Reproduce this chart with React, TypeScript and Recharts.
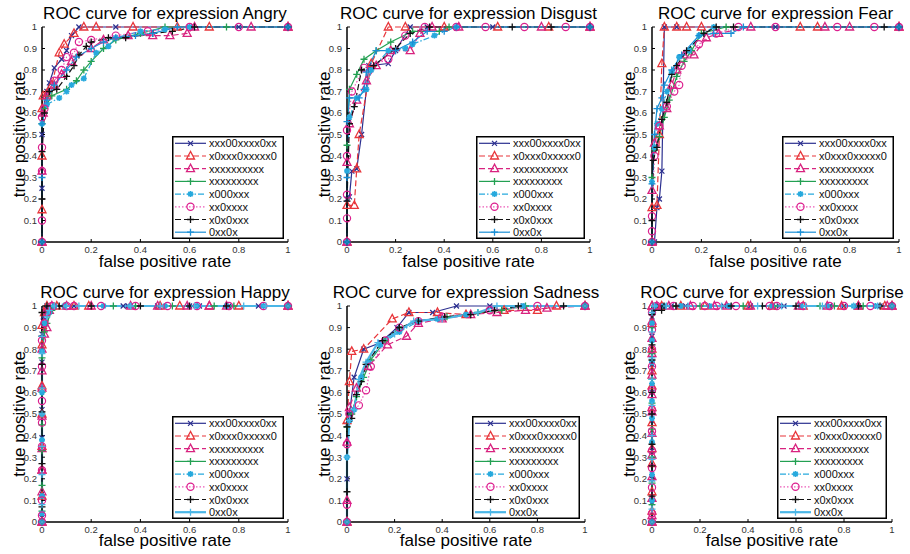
import { LineChart, Line, XAxis, YAxis } from 'recharts'

type Pt = [number, number]

const xTicks = [0, 0.2, 0.4, 0.6, 0.8, 1]
const yTicks = [0, 0.1, 0.2, 0.3, 0.4, 0.5, 0.6, 0.7, 0.8, 0.9, 1]
const methodNames = ['xxx00xxxx0xx', 'x0xxx0xxxxx0', 'xxxxxxxxxx', 'xxxxxxxxx', 'x000xxx', 'xx0xxxx', 'x0x0xxx', '0xx0x']

// Angry
const angry1: Pt[] = [[0, 0], [0, 0.25], [0, 0.5], [0.005, 0.62], [0.02, 0.7], [0.03, 0.74], [0.05, 0.81], [0.08, 0.85], [0.1, 0.89], [0.12, 0.96], [0.15, 1], [0.3, 1], [0.6, 1], [0.8, 1], [1, 1]]
const angry2: Pt[] = [[0, 0], [0, 0.15], [0, 0.4], [0, 0.62], [0.005, 0.68], [0.02, 0.69], [0.04, 0.73], [0.07, 0.88], [0.09, 0.92], [0.13, 0.97], [0.17, 1], [0.22, 1], [0.37, 1], [0.55, 1], [0.68, 1], [1, 1]]
const angry3: Pt[] = [[0, 0], [0, 0.33], [0.005, 0.6], [0.02, 0.68], [0.05, 0.73], [0.08, 0.78], [0.12, 0.84], [0.2, 0.9], [0.25, 0.94], [0.35, 0.96], [0.45, 0.96], [0.52, 0.96], [0.59, 0.97], [0.62, 1], [0.85, 1], [1, 1]]
const angry4: Pt[] = [[0, 0], [0, 0.55], [0.01, 0.62], [0.04, 0.68], [0.1, 0.71], [0.14, 0.75], [0.17, 0.8], [0.2, 0.84], [0.25, 0.9], [0.3, 0.94], [0.4, 0.97], [0.5, 1], [0.75, 1], [1, 1]]
const angry5: Pt[] = [[0, 0], [0, 0.55], [0.02, 0.64], [0.07, 0.67], [0.1, 0.7], [0.12, 0.73], [0.17, 0.76], [0.22, 0.88], [0.27, 0.91], [0.3, 0.95], [0.4, 0.98], [0.5, 0.99], [0.6, 1], [1, 1]]
const angry6: Pt[] = [[0, 0], [0, 0.1], [0, 0.33], [0, 0.44], [0, 0.58], [0.01, 0.62], [0.05, 0.75], [0.08, 0.8], [0.1, 0.86], [0.13, 0.88], [0.15, 0.93], [0.2, 0.94], [0.3, 0.96], [0.43, 0.98], [0.6, 1], [0.8, 1], [1, 1]]
const angry7: Pt[] = [[0, 0], [0, 0.2], [0, 0.42], [0.01, 0.6], [0.03, 0.7], [0.06, 0.71], [0.1, 0.77], [0.13, 0.82], [0.15, 0.87], [0.18, 0.91], [0.2, 0.93], [0.27, 0.95], [0.34, 0.95], [0.45, 0.97], [0.53, 0.98], [0.62, 1], [1, 1]]
const angry8: Pt[] = [[0, 0], [0, 0.3], [0, 0.55], [0.02, 0.66], [0.05, 0.73], [0.1, 0.8], [0.14, 0.86], [0.2, 0.9], [0.25, 0.93], [0.3, 0.95], [0.38, 0.96], [0.45, 0.97], [0.55, 1], [1, 1]]

// Disgust
const disgust1: Pt[] = [[0, 0], [0, 0.2], [0.01, 0.21], [0.02, 0.33], [0.04, 0.34], [0.06, 0.5], [0.09, 0.82], [0.17, 0.83], [0.2, 0.89], [0.26, 1], [0.33, 1], [0.6, 1], [1, 1]]
const disgust2: Pt[] = [[0, 0], [0, 0.17], [0.03, 0.17], [0.04, 0.34], [0.05, 0.5], [0.1, 0.83], [0.17, 1], [0.24, 1], [0.4, 1], [0.62, 1], [0.83, 1], [1, 1]]
const disgust3: Pt[] = [[0, 0], [0, 0.37], [0.01, 0.55], [0.04, 0.66], [0.08, 0.75], [0.12, 0.82], [0.18, 0.89], [0.26, 0.89], [0.3, 0.97], [0.35, 1], [0.46, 1], [0.8, 1], [1, 1]]
const disgust4: Pt[] = [[0, 0], [0, 0.45], [0.01, 0.71], [0.04, 0.78], [0.07, 0.85], [0.12, 0.89], [0.18, 0.93], [0.27, 0.98], [0.38, 0.98], [0.42, 1], [1, 1]]
const disgust5: Pt[] = [[0, 0], [0, 0.33], [0.01, 0.58], [0.04, 0.67], [0.08, 0.71], [0.1, 0.8], [0.17, 0.89], [0.24, 0.9], [0.27, 0.92], [0.36, 0.96], [0.45, 1], [1, 1]]
const disgust6: Pt[] = [[0, 0], [0, 0.11], [0, 0.22], [0, 0.4], [0, 0.52], [0.02, 0.7], [0.07, 0.81], [0.17, 0.85], [0.24, 0.96], [0.32, 1], [0.45, 1], [0.57, 1], [0.73, 1], [0.9, 1], [1, 1]]
const disgust7: Pt[] = [[0, 0], [0, 0.19], [0.01, 0.55], [0.03, 0.63], [0.06, 0.8], [0.11, 0.82], [0.2, 0.9], [0.26, 0.97], [0.34, 1], [0.68, 1], [0.84, 1], [1, 1]]
const disgust8: Pt[] = [[0, 0], [0, 0.3], [0, 0.56], [0.01, 0.67], [0.05, 0.67], [0.07, 0.71], [0.08, 0.79], [0.12, 0.89], [0.2, 0.89], [0.27, 0.93], [0.33, 0.98], [0.4, 0.98], [0.45, 1], [1, 1]]

// Fear
const fear1: Pt[] = [[0, 0], [0.01, 0], [0.02, 0.16], [0.03, 0.2], [0.04, 0.33], [0.05, 1], [0.1, 1], [0.5, 1], [1, 1]]
const fear2: Pt[] = [[0, 0], [0, 0.16], [0.02, 0.17], [0.03, 0.5], [0.04, 0.83], [0.05, 1], [0.1, 1], [0.14, 1], [0.2, 1], [0.6, 1], [0.67, 1], [1, 1]]
const fear3: Pt[] = [[0, 0], [0, 0.24], [0.01, 0.46], [0.03, 0.54], [0.06, 0.62], [0.08, 0.73], [0.1, 0.8], [0.13, 0.87], [0.17, 0.87], [0.22, 0.95], [0.27, 0.97], [0.4, 1], [0.7, 1], [0.8, 1], [1, 1]]
const fear4: Pt[] = [[0, 0], [0, 0.3], [0.01, 0.43], [0.03, 0.49], [0.05, 0.58], [0.07, 0.66], [0.1, 0.77], [0.13, 0.84], [0.16, 0.89], [0.2, 0.97], [0.3, 1], [1, 1]]
const fear5: Pt[] = [[0, 0], [0, 0.28], [0.01, 0.44], [0.02, 0.55], [0.04, 0.62], [0.06, 0.7], [0.08, 0.79], [0.11, 0.86], [0.15, 0.89], [0.19, 0.96], [0.25, 1], [1, 1]]
const fear6: Pt[] = [[0, 0], [0, 0.05], [0, 0.12], [0.01, 0.4], [0.03, 0.54], [0.06, 0.63], [0.09, 0.7], [0.11, 0.73], [0.12, 0.82], [0.19, 0.92], [0.26, 0.97], [0.35, 1], [0.5, 1], [0.75, 1], [0.9, 1], [1, 1]]
const fear7: Pt[] = [[0, 0], [0, 0.1], [0.005, 0.38], [0.02, 0.44], [0.04, 0.57], [0.06, 0.65], [0.08, 0.78], [0.1, 0.82], [0.14, 0.89], [0.21, 0.97], [0.26, 1], [0.33, 1], [0.94, 1], [1, 1]]
const fear8: Pt[] = [[0, 0], [0, 0.27], [0.01, 0.5], [0.02, 0.62], [0.04, 0.67], [0.05, 0.73], [0.08, 0.8], [0.12, 0.87], [0.19, 0.96], [0.25, 0.97], [0.32, 0.97], [0.37, 1], [1, 1]]

// Happy
const happy1: Pt[] = [[0, 0], [0, 0.02], [0, 0.13], [0, 0.39], [0, 0.52], [0, 0.74], [0, 0.87], [0.005, 0.95], [0.01, 0.98], [0.02, 1], [0.05, 1], [0.13, 1], [0.33, 1], [0.35, 1], [0.47, 1], [0.6, 1], [0.64, 1], [0.76, 1], [0.88, 1], [1, 1]]
const happy2: Pt[] = [[0, 0], [0, 0.12], [0, 0.24], [0, 0.35], [0, 0.5], [0, 0.63], [0, 0.82], [0, 0.91], [0.01, 0.97], [0.02, 1], [0.06, 1], [0.13, 1], [0.19, 1], [0.48, 1], [0.56, 1], [0.68, 1], [0.8, 1], [1, 1]]
const happy3: Pt[] = [[0, 0], [0, 0.14], [0, 0.24], [0, 0.34], [0, 0.49], [0, 0.62], [0, 0.7], [0, 0.8], [0.01, 0.87], [0.02, 0.9], [0.03, 0.98], [0.04, 1], [0.1, 1], [0.2, 1], [0.36, 1], [0.47, 1], [0.59, 1], [0.68, 1], [0.75, 1], [1, 1]]
const happy4: Pt[] = [[0, 0], [0, 0.05], [0, 0.17], [0, 0.33], [0, 0.45], [0, 0.6], [0, 0.76], [0.01, 0.88], [0.02, 0.92], [0.04, 0.98], [0.05, 1], [0.09, 1], [0.29, 1], [0.38, 1], [0.53, 1], [0.7, 1], [0.78, 1], [1, 1]]
const happy5: Pt[] = [[0, 0], [0, 0.04], [0, 0.12], [0, 0.38], [0, 0.5], [0, 0.6], [0, 0.79], [0.01, 0.92], [0.03, 0.97], [0.05, 1], [0.09, 1], [0.25, 1], [0.36, 1], [0.5, 1], [0.63, 1], [0.75, 1], [0.9, 1], [1, 1]]
const happy6: Pt[] = [[0, 0], [0, 0.03], [0, 0.1], [0, 0.24], [0, 0.35], [0, 0.46], [0, 0.56], [0, 0.72], [0, 0.84], [0.01, 0.92], [0.02, 0.97], [0.04, 1], [0.1, 1], [0.13, 1], [0.24, 1], [0.38, 1], [0.51, 1], [0.63, 1], [0.76, 1], [0.9, 1], [1, 1]]
const happy7: Pt[] = [[0, 0], [0, 0.07], [0, 0.27], [0, 0.51], [0, 0.73], [0, 0.86], [0, 0.97], [0.02, 1], [0.07, 1], [0.2, 1], [0.4, 1], [0.6, 1], [0.75, 1], [1, 1]]
const happy8: Pt[] = [[0, 0], [0, 0.08], [0, 0.22], [0, 0.35], [0, 0.5], [0, 0.62], [0, 0.78], [0, 0.86], [0.02, 0.95], [0.03, 0.98], [0.05, 1], [0.1, 1], [0.15, 1], [0.36, 1], [0.48, 1], [0.62, 1], [0.82, 1], [0.91, 1], [1, 1]]

// Sadness
const sad1: Pt[] = [[0, 0], [0, 0.2], [0, 0.45], [0.01, 0.5], [0.03, 0.67], [0.07, 0.8], [0.14, 0.83], [0.21, 0.9], [0.26, 0.97], [0.36, 0.97], [0.46, 1], [0.6, 1], [0.74, 1], [1, 1]]
const sad2: Pt[] = [[0, 0], [0, 0.47], [0.01, 0.65], [0.02, 0.79], [0.07, 0.8], [0.19, 0.94], [0.26, 0.97], [0.38, 0.97], [0.5, 0.96], [0.66, 0.98], [0.8, 0.98], [0.88, 1], [1, 1]]
const sad3: Pt[] = [[0, 0], [0, 0.1], [0, 0.37], [0.01, 0.53], [0.04, 0.62], [0.09, 0.72], [0.17, 0.82], [0.25, 0.86], [0.3, 0.92], [0.4, 0.94], [0.52, 0.96], [0.63, 0.97], [0.75, 0.98], [0.84, 0.99], [1, 1]]
const sad4: Pt[] = [[0, 0], [0, 0.44], [0.02, 0.5], [0.04, 0.58], [0.07, 0.67], [0.1, 0.75], [0.16, 0.84], [0.22, 0.9], [0.3, 0.93], [0.42, 0.95], [0.55, 0.97], [0.65, 0.98], [0.75, 1], [1, 1]]
const sad5: Pt[] = [[0, 0], [0, 0.3], [0.01, 0.47], [0.03, 0.52], [0.06, 0.67], [0.09, 0.74], [0.14, 0.82], [0.22, 0.88], [0.3, 0.93], [0.38, 0.94], [0.5, 0.96], [0.74, 1], [1, 1]]
const sad6: Pt[] = [[0, 0], [0, 0.08], [0, 0.36], [0.01, 0.5], [0.05, 0.54], [0.08, 0.61], [0.1, 0.72], [0.16, 0.84], [0.22, 0.9], [0.3, 0.93], [0.4, 0.95], [0.6, 0.98], [0.8, 1], [1, 1]]
const sad7: Pt[] = [[0, 0], [0, 0.14], [0, 0.44], [0.02, 0.48], [0.04, 0.59], [0.06, 0.65], [0.08, 0.73], [0.15, 0.84], [0.22, 0.9], [0.3, 0.93], [0.41, 0.95], [0.52, 0.96], [0.62, 0.98], [0.72, 1], [0.91, 1], [1, 1]]
const sad8: Pt[] = [[0, 0], [0, 0.3], [0.01, 0.47], [0.03, 0.52], [0.05, 0.66], [0.08, 0.74], [0.13, 0.83], [0.2, 0.87], [0.28, 0.93], [0.4, 0.94], [0.55, 0.97], [0.63, 1], [1, 1]]

// Surprise
const surprise1: Pt[] = [[0, 0], [0, 0.09], [0, 0.2], [0, 0.33], [0, 0.47], [0, 0.6], [0, 0.73], [0, 0.86], [0, 0.95], [0.01, 1], [0.03, 1], [0.08, 1], [0.14, 1], [0.3, 1], [0.41, 1], [0.53, 1], [0.55, 1], [0.62, 1], [0.74, 1], [0.8, 1], [0.86, 1], [0.95, 1], [1, 1]]
const surprise2: Pt[] = [[0, 0], [0, 0.05], [0, 0.14], [0, 0.27], [0, 0.34], [0, 0.46], [0, 0.53], [0, 0.63], [0, 0.7], [0, 0.8], [0, 0.92], [0, 1], [0.04, 1], [0.12, 1], [0.22, 1], [0.4, 1], [0.5, 1], [0.63, 1], [0.79, 1], [0.86, 1], [0.97, 1], [1, 1]]
const surprise3: Pt[] = [[0, 0], [0, 0.03], [0, 0.11], [0, 0.21], [0, 0.31], [0, 0.41], [0, 0.51], [0, 0.59], [0, 0.68], [0, 0.78], [0, 0.85], [0, 0.93], [0, 1], [0.02, 1], [0.07, 1], [0.16, 1], [0.26, 1], [0.31, 1], [0.41, 1], [0.61, 1], [0.73, 1], [0.86, 1], [0.98, 1], [1, 1]]
const surprise4: Pt[] = [[0, 0], [0, 0.08], [0, 0.18], [0, 0.3], [0, 0.43], [0, 0.55], [0, 0.66], [0, 0.78], [0, 0.9], [0.01, 1], [0.1, 1], [0.2, 1], [0.38, 1], [0.51, 1], [0.7, 1], [0.76, 1], [0.88, 1], [1, 1]]
const surprise5: Pt[] = [[0, 0], [0, 0.1], [0, 0.22], [0, 0.37], [0, 0.48], [0, 0.56], [0, 0.64], [0, 0.74], [0, 0.84], [0, 0.92], [0.01, 1], [0.05, 1], [0.12, 1], [0.24, 1], [0.32, 1], [0.5, 1], [0.62, 1], [0.73, 1], [0.84, 1], [0.93, 1], [1, 1]]
const surprise6: Pt[] = [[0, 0], [0, 0.04], [0, 0.16], [0, 0.25], [0, 0.33], [0, 0.42], [0, 0.52], [0, 0.61], [0, 0.72], [0, 0.8], [0, 0.89], [0, 0.97], [0.02, 1], [0.09, 1], [0.17, 1], [0.22, 1], [0.27, 1], [0.35, 1], [0.49, 1], [0.52, 1], [0.63, 1], [0.74, 1], [0.8, 1], [0.91, 1], [1, 1]]
const surprise7: Pt[] = [[0, 0], [0, 0.12], [0, 0.26], [0, 0.36], [0, 0.5], [0, 0.6], [0, 0.75], [0, 0.82], [0, 0.96], [0.01, 0.98], [0.04, 0.98], [0.05, 1], [0.1, 1], [0.33, 1], [0.46, 1], [0.6, 1], [0.86, 1], [0.95, 1], [1, 1]]
const surprise8: Pt[] = [[0, 0], [0, 0.06], [0, 0.19], [0, 0.29], [0, 0.4], [0, 0.54], [0, 0.66], [0, 0.76], [0, 0.88], [0, 0.97], [0.01, 1], [0.06, 1], [0.15, 1], [0.29, 1], [0.44, 1], [0.54, 1], [0.64, 1], [0.71, 1], [0.84, 1], [0.94, 1], [1, 1]]

const FONT = '"Liberation Sans", Arial, Helvetica, sans-serif'

type MarkerKind = 'x' | 'tri' | 'plus' | 'star' | 'circle'

interface SeriesStyle {
  color: string
  dash?: string
  marker: MarkerKind
  markerColor?: string
}

const seriesStyle: SeriesStyle[] = [
  { color: '#2b2f8f', marker: 'x' },
  { color: '#e8353a', dash: '6 3', marker: 'tri' },
  { color: '#d8237f', dash: '6 3', marker: 'tri' },
  { color: '#23a052', marker: 'plus' },
  { color: '#27a9dd', dash: '6 2 1.5 2', marker: 'star' },
  { color: '#ec5ab8', dash: '1.5 2', marker: 'circle', markerColor: '#dc1f8e' },
  { color: '#111111', dash: '6 3', marker: 'plus' },
  { color: '#1a8fd5', marker: 'plus' },
]

function Marker({ kind, cx, cy, color }: { kind: MarkerKind; cx: number; cy: number; color: string }) {
  if (cx == null || cy == null || isNaN(cx) || isNaN(cy)) return <g />
  switch (kind) {
    case 'x':
      return (
        <path
          d={`M${cx - 2.5},${cy - 2.5}L${cx + 2.5},${cy + 2.5}M${cx - 2.5},${cy + 2.5}L${cx + 2.5},${cy - 2.5}`}
          stroke={color}
          strokeWidth={1.2}
          fill="none"
        />
      )
    case 'tri':
      return (
        <polygon
          points={`${cx},${cy - 4.5} ${cx - 4},${cy + 3} ${cx + 4},${cy + 3}`}
          stroke={color}
          strokeWidth={1.3}
          fill="none"
        />
      )
    case 'plus':
      return (
        <path d={`M${cx - 3.5},${cy}L${cx + 3.5},${cy}M${cx},${cy - 3.5}L${cx},${cy + 3.5}`} stroke={color} strokeWidth={1.3} />
      )
    case 'star':
      return (
        <path
          d={`M${cx - 3},${cy}L${cx + 3},${cy}M${cx},${cy - 3}L${cx},${cy + 3}M${cx - 2.2},${cy - 2.2}L${cx + 2.2},${cy + 2.2}M${cx - 2.2},${cy + 2.2}L${cx + 2.2},${cy - 2.2}`}
          stroke={color}
          strokeWidth={1.6}
        />
      )
    default:
      return <circle cx={cx} cy={cy} r={3.6} stroke={color} strokeWidth={1.2} fill="none" />
  }
}

const fmt = (v: number) => String(v)
const emptyTick = () => <g />
const axisLineStyle = { stroke: '#000', strokeWidth: 1.5 }
const tickLineStyle = { stroke: '#000', strokeWidth: 1 }
const tickText = { fill: '#333', fontSize: 9.5, fontFamily: FONT }

interface PanelProps {
  curves: Pt[][]
  left: number
  top: number
  right: number
  bottom: number
  bottomRow?: boolean
}

function Panel({ curves, left, top, right, bottom, bottomRow }: PanelProps) {
  const YW = 40
  const XH = 30
  const T = 20
  const R = 12
  const W = YW + (right - left) + R
  const H = T + (bottom - top) + XH
  return (
    <div style={{ position: 'absolute', left: left - YW, top: top - T }}>
      <LineChart width={W} height={H} margin={{ top: T, right: R, left: 0, bottom: 0 }}>
        <XAxis
          type="number"
          dataKey="x"
          domain={[0, 1]}
          ticks={xTicks}
          interval={0}
          tickFormatter={fmt}
          height={XH}
          tickSize={-3}
          tickMargin={7}
          axisLine={axisLineStyle}
          tickLine={tickLineStyle}
          tick={tickText}
        />
        <XAxis
          xAxisId="top"
          orientation="top"
          type="number"
          dataKey="x"
          domain={[0, 1]}
          ticks={xTicks}
          interval={0}
          height={0}
          tickSize={-3}
          allowDataOverflow
          axisLine={axisLineStyle}
          tickLine={tickLineStyle}
          tick={emptyTick}
        />
        <YAxis
          type="number"
          domain={[0, 1]}
          ticks={yTicks}
          interval={0}
          tickFormatter={fmt}
          width={YW}
          tickSize={-3}
          tickMargin={8}
          axisLine={axisLineStyle}
          tickLine={tickLineStyle}
          tick={tickText}
        />
        <YAxis
          yAxisId="right"
          orientation="right"
          type="number"
          domain={[0, 1]}
          ticks={yTicks}
          interval={0}
          width={0}
          tickSize={-3}
          allowDataOverflow
          axisLine={axisLineStyle}
          tickLine={tickLineStyle}
          tick={emptyTick}
        />
        {curves.map((pts, i) => {
          const st = seriesStyle[i]
          const thick = bottomRow && i === 7
          const color = thick ? '#4ab6e6' : st.color
          const mColor = st.markerColor || color
          return (
            <Line
              key={i}
              data={pts.map(([x, y]) => ({ x, y }))}
              dataKey="y"
              type="linear"
              stroke={color}
              strokeWidth={thick ? 2.2 : 1.2}
              strokeDasharray={st.dash}
              dot={(p: any) => <Marker key={p.index} kind={st.marker} cx={p.cx} cy={p.cy} color={mColor} />}
              activeDot={false}
              legendType="none"
              isAnimationActive={false}
            />
          )
        })}
      </LineChart>
    </div>
  )
}

function LegendBox({ box, bottomRow }: { box: number[]; bottomRow?: boolean }) {
  const [l, t, r, b] = box
  const w = r - l
  const h = b - t
  return (
    <svg style={{ position: 'absolute', left: l, top: t, overflow: 'hidden' }} width={w} height={h}>
      <rect x={0.75} y={0.75} width={w - 1.5} height={h - 1.5} fill="#fff" stroke="#000" strokeWidth={1.5} />
      {methodNames.map((name, i) => {
        const st = seriesStyle[i]
        const thick = bottomRow && i === 7
        const color = thick ? '#4ab6e6' : st.color
        const cy = 7.3 + 12.7 * i
        return (
          <g key={name + i}>
            <line x1={3} x2={34} y1={cy} y2={cy} stroke={color} strokeWidth={thick ? 2.2 : 1.2} strokeDasharray={st.dash} />
            <Marker kind={st.marker} cx={18.5} cy={cy} color={st.markerColor || color} />
            <text x={37} y={cy + 4} fontSize={11} fontFamily={FONT} fill="#111">
              {name}
            </text>
          </g>
        )
      })}
    </svg>
  )
}

const panels = [
  { name: 'Angry', curves: [angry1, angry2, angry3, angry4, angry5, angry6, angry7, angry8], plot: [42, 27, 288, 242], legend: [172, 136, 284, 239] },
  { name: 'Disgust', curves: [disgust1, disgust2, disgust3, disgust4, disgust5, disgust6, disgust7, disgust8], plot: [347, 27, 590, 242], legend: [476, 136, 585, 239] },
  { name: 'Fear', curves: [fear1, fear2, fear3, fear4, fear5, fear6, fear7, fear8], plot: [652, 27, 899, 242], legend: [782, 136, 894, 239] },
  { name: 'Happy', curves: [happy1, happy2, happy3, happy4, happy5, happy6, happy7, happy8], plot: [42, 306, 288, 522], legend: [172, 416, 284, 519], bottomRow: true },
  { name: 'Sadness', curves: [sad1, sad2, sad3, sad4, sad5, sad6, sad7, sad8], plot: [347, 306, 585, 522], legend: [472, 416, 580, 519], bottomRow: true },
  { name: 'Surprise', curves: [surprise1, surprise2, surprise3, surprise4, surprise5, surprise6, surprise7, surprise8], plot: [652, 306, 892, 522], legend: [777, 416, 887, 519], bottomRow: true },
]

export default function App() {
  return (
    <div style={{ position: 'absolute', left: 0, top: 0, width: 910, height: 554, background: '#fff', fontFamily: FONT }}>
      <svg width={910} height={554} style={{ position: 'absolute', left: 0, top: 0 }}>
        {panels.map((p) => {
          const [l, t, r, b] = p.plot
          const cx = (l + r) / 2
          const cy = (t + b) / 2
          return (
            <g key={p.name} fontFamily={FONT} fill="#000">
              <text x={cx} y={t - 8} textAnchor="middle" fontSize={17}>
                {`ROC curve for expression ${p.name}`}
              </text>
              <text x={cx} y={b + (p.bottomRow ? 24 : 25)} textAnchor="middle" fontSize={17}>
                false positive rate
              </text>
              <text transform={`translate(${l - 17},${cy}) rotate(-90)`} textAnchor="middle" fontSize={17}>
                true positive rate
              </text>
            </g>
          )
        })}
      </svg>
      {panels.map((p) => (
        <Panel
          key={p.name}
          curves={p.curves}
          left={p.plot[0]}
          top={p.plot[1]}
          right={p.plot[2]}
          bottom={p.plot[3]}
          bottomRow={p.bottomRow}
        />
      ))}
      {panels.map((p) => (
        <LegendBox key={p.name + '-legend'} box={p.legend} bottomRow={p.bottomRow} />
      ))}
    </div>
  )
}
